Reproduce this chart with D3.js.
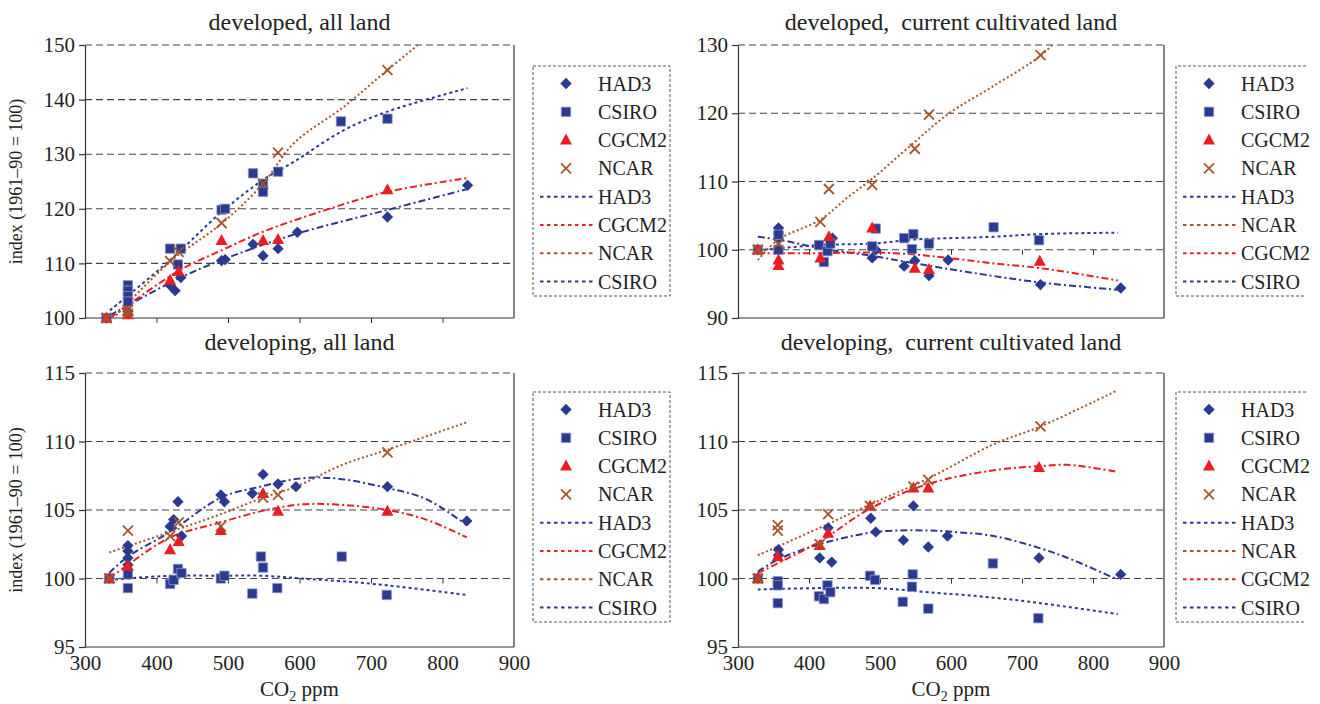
<!DOCTYPE html>
<html>
<head>
<meta charset="utf-8">
<script src="https://cdnjs.cloudflare.com/ajax/libs/d3/7.8.5/d3.min.js"></script>
<style>
  body { margin: 0; background: #fff; }
  text { font-family: "Liberation Serif", "Times New Roman", serif; fill: #222; }
</style>
</head>
<body>
<div id="chart"></div>
<script>
// ---- data: [CO2 ppm, index] ----
var xTicks = [300, 400, 500, 600, 700, 800, 900];

// developed, all land
var devAllPts = {
  HAD3: [[330,100],[360,101.2],[419,106],[426,105],[434,107.4],[491,110.5],[496,110.7],[535,113.5],[549,111.4],[570,112.7],[597,115.7],[723,118.5],[835,124.3]],
  CSIRO: [[330,100],[360,106],[360,105],[360,104],[360,103],[419,112.7],[434,112.7],[430,109.8],[491,119.8],[496,120],[535,126.5],[549,124.6],[549,123.1],[570,126.8],[658,136],[723,136.5]],
  CGCM2: [[330,100],[360,100.6],[360,101.2],[419,106.9],[431,108.5],[491,114.2],[549,114.2],[570,114.4],[723,123.5]],
  NCAR: [[330,100],[360,101.5],[360,100.8],[419,110.4],[431,112.1],[491,117.4],[549,124.6],[570,130.3],[723,145.4]]
};
var devAllTrend = {
  HAD3: [[335,100.5],[432,107.3],[497,110.9],[590,115.2],[723,119.8],[837,123.7]],
  CSIRO: [[335,101.4],[419,110.6],[491,119.4],[549,125.3],[592,128.6],[662,134.4],[723,137.8],[835,142.1]],
  CGCM2: [[335,100],[432,108.7],[491,112.4],[549,115.8],[637,119.8],[723,123.1],[834,125.6]],
  NCAR: [[335,99.3],[419,110.3],[491,117.3],[549,124.6],[592,132],[662,138.7],[723,145.4],[770,150.5]]
};

// developed, current cultivated land
var devCultPts = {
  HAD3: [[328,100],[357,103.2],[357,102.4],[357,101.5],[433,101.7],[489,98.8],[494,100],[534,97.6],[549,98.4],[569,96.2],[596,98.5],[726,94.9],[839,94.4]],
  CSIRO: [[328,100],[357,102.2],[357,100],[414,100.7],[421,98.2],[426,99.8],[430,100.9],[489,100.5],[494,103.1],[534,101.7],[547,102.3],[545,100.1],[569,100.9],[660,103.3],[724,101.4]],
  CGCM2: [[328,100],[357,98.5],[357,97.7],[416,98.8],[428,101.9],[489,103.2],[549,97.3],[569,97.1],[725,98.3]],
  NCAR: [[328,100],[357,100.9],[416,104.1],[428,108.9],[489,109.5],[549,114.8],[569,119.8],[726,128.5]]
};
var devCultTrend = {
  HAD3: [[328,101.9],[357,101.5],[416,100.2],[489,99.1],[549,98],[632,96.6],[726,95.2],[840,94.1]],
  CSIRO: [[328,99.9],[416,100.7],[489,100.9],[549,101.5],[660,101.9],[726,102.3],[835,102.5]],
  CGCM2: [[328,99.5],[416,99.5],[489,99.6],[549,99.3],[596,98.8],[660,98],[726,97.3],[835,95.5]],
  NCAR: [[328,98.5],[357,101.5],[416,104.4],[456,107.8],[489,110.4],[549,115.8],[596,119.9],[660,124],[726,128.4],[745,130.3]]
};

// developing, all land
var dvgAllPts = {
  HAD3: [[334,100],[360,102.4],[360,102],[360,101.5],[360,101],[419,103.8],[424,104.3],[430,105.6],[435,103.1],[490,106.1],[495,105.6],[534,106.2],[549,107.6],[570,106.9],[595,106.7],[723,106.7],[834,104.2]],
  CSIRO: [[334,100],[360,100.3],[360,99.3],[419,99.6],[424,99.9],[430,100.7],[435,100.4],[490,100],[495,100.2],[534,98.9],[546,101.6],[549,100.8],[569,99.3],[659,101.6],[722,98.8]],
  CGCM2: [[334,100],[360,100.9],[419,102.1],[431,102.7],[490,103.5],[549,106.2],[570,104.9],[723,104.9]],
  NCAR: [[334,100],[360,103.5],[419,103.1],[431,104.1],[490,103.8],[549,105.9],[570,106.1],[723,109.2]]
};
var dvgAllTrend = {
  HAD3: [[334,100.4],[360,101.6],[419,103.4],[490,105.9],[545,106.7],[601,107.3],[652,107.3],[723,106.6],[777,105.8],[834,103.9]],
  CSIRO: [[334,99.9],[419,100.2],[490,100.2],[549,100.2],[601,100],[659,99.8],[723,99.5],[834,98.8]],
  CGCM2: [[334,100],[360,101],[419,103],[490,104.1],[545,104.9],[601,105.4],[652,105.4],[723,105],[777,104.3],[834,103]],
  NCAR: [[334,101.9],[419,103.4],[490,104.7],[549,105.9],[595,106.7],[660,108.3],[723,109.4],[834,111.4]]
};

// developing, current cultivated land
var dvgCultPts = {
  HAD3: [[328,100],[357,102.1],[357,101.7],[415,101.5],[427,103.7],[432,101.2],[487,104.4],[494,103.4],[533,102.8],[547,105.3],[568,102.3],[595,103.1],[724,101.5],[839,100.3]],
  CSIRO: [[328,100],[356,99.8],[356,99.5],[356,98.2],[414,98.7],[421,98.5],[426,99.5],[430,99],[486,100.2],[493,99.9],[532,98.3],[545,99.4],[546,100.3],[568,97.8],[659,101.1],[723,97.1]],
  CGCM2: [[328,100],[356,101.6],[415,102.4],[427,103.3],[486,105.3],[547,106.6],[568,106.6],[724,108.1]],
  NCAR: [[328,100],[356,103.9],[356,103.5],[415,102.5],[427,104.7],[486,105.3],[547,106.7],[568,107.2],[726,111.1]]
};
var dvgCultTrend = {
  HAD3: [[328,100.5],[357,101.4],[415,102.5],[494,103.4],[568,103.5],[603,103.4],[660,103.1],[726,102.2],[774,101.3],[835,99.9]],
  CSIRO: [[328,99.2],[414,99.3],[494,99.3],[568,99],[660,98.6],[726,98.2],[835,97.4]],
  CGCM2: [[328,100.4],[415,102.7],[486,105.1],[568,106.9],[660,107.9],[726,108.2],[764,108.3],[833,107.8]],
  NCAR: [[328,101.7],[415,103.7],[486,105.4],[568,107.3],[660,109.8],[726,111.1],[833,113.7]]
};

var markerOrder = ["HAD3", "CSIRO", "CGCM2", "NCAR"];
var lineOrderA = ["HAD3", "CGCM2", "NCAR", "CSIRO"];
var lineOrderB = ["HAD3", "NCAR", "CGCM2", "CSIRO"];

var colors = { HAD3: "#2b3990", CSIRO: "#2b3990", CGCM2: "#ec1c24", NCAR: "#a5552a" };
var dashes = { HAD3: "7,3,2,3", CSIRO: "3,3", CGCM2: "7,3,2,3", NCAR: "2,2.5" };

var panels = [
  { title: "developed, all land", x0: 85, x1: 514, y0: 45, y1: 318, yDom: [100, 150], yTicks: [100,110,120,130,140,150],
    pts: devAllPts, trend: devAllTrend, legX: 533, legY: 66, lines: lineOrderA, showX: false, tY: 30 },
  { title: "developed,  current cultivated land", x0: 738, x1: 1164, y0: 45, y1: 318, yDom: [90, 130], yTicks: [90,100,110,120,130],
    pts: devCultPts, trend: devCultTrend, legX: 1176, legY: 66, lines: lineOrderB, showX: false, tY: 30 },
  { title: "developing, all land", x0: 85, x1: 514, y0: 373, y1: 647, yDom: [95, 115], yTicks: [95,100,105,110,115],
    pts: dvgAllPts, trend: dvgAllTrend, legX: 533, legY: 392, lines: lineOrderA, showX: true, tY: 350 },
  { title: "developing,  current cultivated land", x0: 738, x1: 1164, y0: 373, y1: 647, yDom: [95, 115], yTicks: [95,100,105,110,115],
    pts: dvgCultPts, trend: dvgCultTrend, legX: 1176, legY: 392, lines: lineOrderB, showX: true, tY: 350 }
];

var svg = d3.select("#chart").append("svg")
  .attr("width", 1320)
  .attr("height", 704);

svg.append("rect").attr("width", 1320).attr("height", 704).attr("fill", "#fff");

// draw one marker shape at (0,0)
function drawMarker(sel, name) {
  if (name === "HAD3") {
    sel.append("path").attr("d", d3.symbol().type(d3.symbolSquare).size(64))
      .attr("transform", "rotate(45)").attr("fill", colors.HAD3);
  } else if (name === "CSIRO") {
    sel.append("path").attr("d", d3.symbol().type(d3.symbolSquare).size(88))
      .attr("fill", colors.CSIRO).attr("stroke", "#8d96c8").attr("stroke-width", 0.8);
  } else if (name === "CGCM2") {
    sel.append("path").attr("d", "M0,-6.5L6,4.5L-6,4.5Z").attr("fill", colors.CGCM2);
  } else {
    sel.append("path").attr("d", "M-5,-5L5,5M-5,5L5,-5")
      .attr("stroke", colors.NCAR).attr("stroke-width", 1.8).attr("fill", "none");
  }
}

panels.forEach(function(p, i) {
  var x = d3.scaleLinear().domain([300, 900]).range([p.x0, p.x1]);
  var y = d3.scaleLinear().domain(p.yDom).range([p.y1, p.y0]);
  var g = svg.append("g");

  // title
  g.append("text")
    .attr("x", (p.x0 + p.x1) / 2)
    .attr("y", p.tY)
    .attr("text-anchor", "middle")
    .style("font-size", "24px")
    .style("white-space", "pre")
    .text(p.title);

  // dashed gridlines
  g.selectAll(".grid")
    .data(p.yTicks.filter(function(v) { return v > p.yDom[0]; }))
    .enter().append("line")
    .attr("x1", p.x0).attr("x2", p.x1)
    .attr("y1", function(d) { return y(d); })
    .attr("y2", function(d) { return y(d); })
    .attr("stroke", "#444").attr("stroke-width", 1.1)
    .attr("stroke-dasharray", "7,4");

  // box: right, bottom
  g.append("line").attr("x1", p.x1).attr("x2", p.x1).attr("y1", p.y0).attr("y2", p.y1)
    .attr("stroke", "#333").attr("stroke-width", 1.2);
  g.append("line").attr("x1", p.x0).attr("x2", p.x1).attr("y1", p.y1).attr("y2", p.y1)
    .attr("stroke", "#333").attr("stroke-width", 1.2);

  // y axis
  var yAxis = g.append("g")
    .attr("transform", "translate(" + p.x0 + ",0)")
    .call(d3.axisLeft(y).tickValues(p.yTicks).tickSize(6).tickSizeOuter(0).tickPadding(4));
  yAxis.selectAll("text").style("font-size", "21px").style("font-family", "Liberation Serif").attr("fill", "#222");
  yAxis.selectAll("line, path").attr("stroke", "#333").attr("stroke-width", 1.2);

  // x axis crossing at 100
  var xCross = g.append("g")
    .attr("transform", "translate(0," + y(100) + ")")
    .call(d3.axisBottom(x).tickValues([400, 500, 600, 700, 800]).tickSize(5).tickFormat(""));
  xCross.select(".domain").remove();
  xCross.selectAll("line").attr("stroke", "#333");

  if (p.showX) {
    var xAxis = g.append("g")
      .attr("transform", "translate(0," + p.y1 + ")")
      .call(d3.axisBottom(x).tickValues(xTicks).tickSize(0).tickPadding(8));
    xAxis.select(".domain").remove();
    xAxis.selectAll("text").style("font-size", "21px").style("font-family", "Liberation Serif").attr("fill", "#222");

    var xl = g.append("text")
      .attr("x", (p.x0 + p.x1) / 2)
      .attr("y", 696)
      .attr("text-anchor", "middle")
      .style("font-size", "21px");
    xl.append("tspan").text("CO");
    xl.append("tspan").text("2").attr("dy", 5).style("font-size", "14px");
    xl.append("tspan").text(" ppm").attr("dy", -5);
  }

  // y label on left panels
  if (p.x0 < 300) {
    g.append("text")
      .attr("transform", "translate(22," + ((p.y0 + p.y1) / 2) + ") rotate(-90)")
      .attr("text-anchor", "middle")
      .style("font-size", "18px")
      .text("index (1961\u201390 = 100)");
  }

  // clip for trend lines
  svg.append("clipPath").attr("id", "clip" + i)
    .append("rect").attr("x", p.x0).attr("y", p.y0).attr("width", p.x1 - p.x0).attr("height", p.y1 - p.y0);

  var line = d3.line()
    .x(function(d) { return x(d[0]); })
    .y(function(d) { return y(d[1]); })
    .curve(d3.curveCatmullRom);

  var lineG = g.append("g").attr("clip-path", "url(#clip" + i + ")");
  markerOrder.forEach(function(name) {
    lineG.append("path")
      .datum(p.trend[name])
      .attr("d", line)
      .attr("fill", "none")
      .attr("stroke", colors[name])
      .attr("stroke-width", 2)
      .attr("stroke-dasharray", dashes[name]);
  });

  // markers
  markerOrder.forEach(function(name) {
    g.selectAll(".m" + name)
      .data(p.pts[name])
      .enter().append("g")
      .attr("transform", function(d) { return "translate(" + x(d[0]) + "," + y(d[1]) + ")"; })
      .each(function() { drawMarker(d3.select(this), name); });
  });

  // legend
  var lg = svg.append("g").attr("transform", "translate(" + p.legX + "," + p.legY + ")");
  var boxW = p.legX > 1000 ? 130 : 137;
  if (p.legX > 1000) {
    lg.append("path").attr("d", "M" + boxW + ",0H0V230H" + boxW)
      .attr("fill", "none").attr("stroke", "#555").attr("stroke-dasharray", "3,2");
  } else {
    lg.append("rect").attr("width", boxW).attr("height", 230)
      .attr("fill", "none").attr("stroke", "#555").attr("stroke-dasharray", "3,2");
  }
  var items = markerOrder.map(function(n) { return { name: n, kind: "m" }; })
    .concat(p.lines.map(function(n) { return { name: n, kind: "l" }; }));
  items.forEach(function(it, k) {
    var ry = 17.5 + k * 28.3;
    var row = lg.append("g").attr("transform", "translate(0," + ry + ")");
    if (it.kind === "m") {
      var mg = row.append("g").attr("transform", "translate(33,0)");
      drawMarker(mg, it.name);
    } else {
      row.append("line").attr("x1", 7).attr("x2", 61).attr("y1", 0).attr("y2", 0)
        .attr("stroke", colors[it.name]).attr("stroke-width", 2).attr("stroke-dasharray", "3.5,3.5");
    }
    row.append("text").attr("x", 65).attr("y", 7)
      .style("font-size", "20px").text(it.name);
  });
});
</script>
</body>
</html>
